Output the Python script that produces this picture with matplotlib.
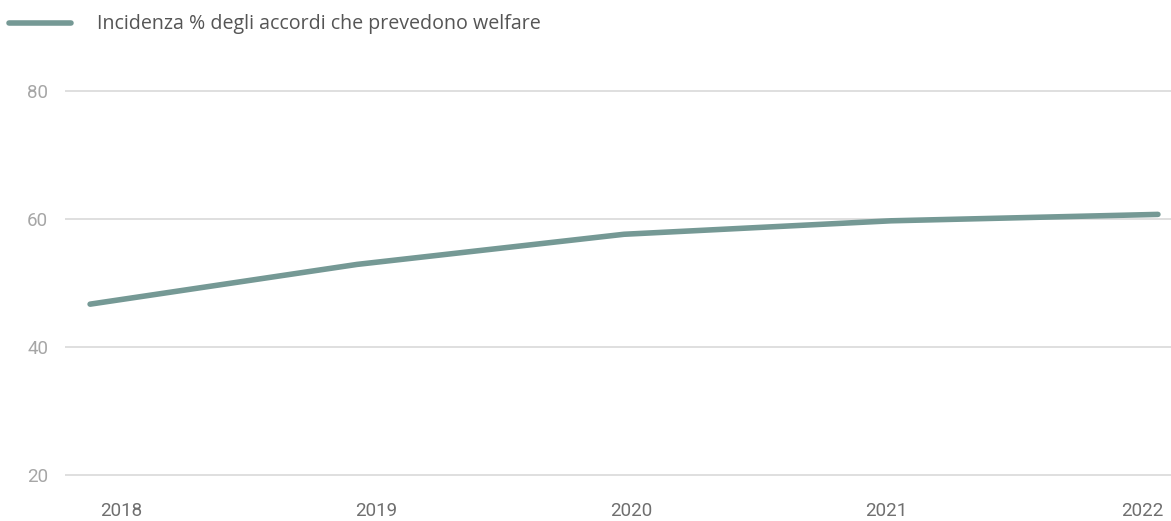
import numpy as np
import matplotlib.pyplot as plt

anni = ['2018', '2019', '2020', '2021', '2022']
incidenza = [46.7, 52.9, 57.6, 59.7, 60.7]
y_ticks = [20, 40, 60, 80]
etichetta = 'Incidenza % degli accordi che prevedono welfare'

colore = '#759995'

fig = plt.figure(figsize=(11.71, 5.21), dpi=100)
ax = fig.add_axes([65 / 1171, 1 - 476 / 521, 1 - 65 / 1171, (476 - 90) / 521])

x = np.arange(len(anni))
ax.plot(x, incidenza, color=colore, lw=4, solid_capstyle='round',
        solid_joinstyle='round', clip_on=False, zorder=3)

ax.set_xlim(-0.094, 4.049)
ax.set_ylim(19.9, 80.1)
ax.set_yticks(y_ticks)
ax.set_yticklabels([str(v) for v in y_ticks], fontfamily='Roboto',
                   fontsize=13.5, color='#a6a6a6')
# le etichette degli anni non sono centrate sui punti
ax.set_xticks(np.linspace(0.116, 3.94, len(anni)))
ax.set_xticklabels(anni, fontfamily='Roboto', fontsize=13.5, color='#6f6f6f')
ax.tick_params(axis='y', length=0, pad=12)
ax.tick_params(axis='x', length=0, pad=19)

ax.grid(axis='y', color='#d6d6d6', lw=1.1)
ax.set_axisbelow(True)
for s in ax.spines.values():
    s.set_visible(False)

# legenda in alto a sinistra
fig.lines.append(plt.Line2D([9 / 1171, 71 / 1171], [1 - 23 / 521] * 2,
                            transform=fig.transFigure, color=colore, lw=4,
                            solid_capstyle='round'))
fig.text(97 / 1171, 1 - 24 / 521, etichetta, fontfamily='Open Sans',
         fontsize=14.1, color='#555555', va='center', ha='left')

fig.savefig('out.png', dpi=100)
